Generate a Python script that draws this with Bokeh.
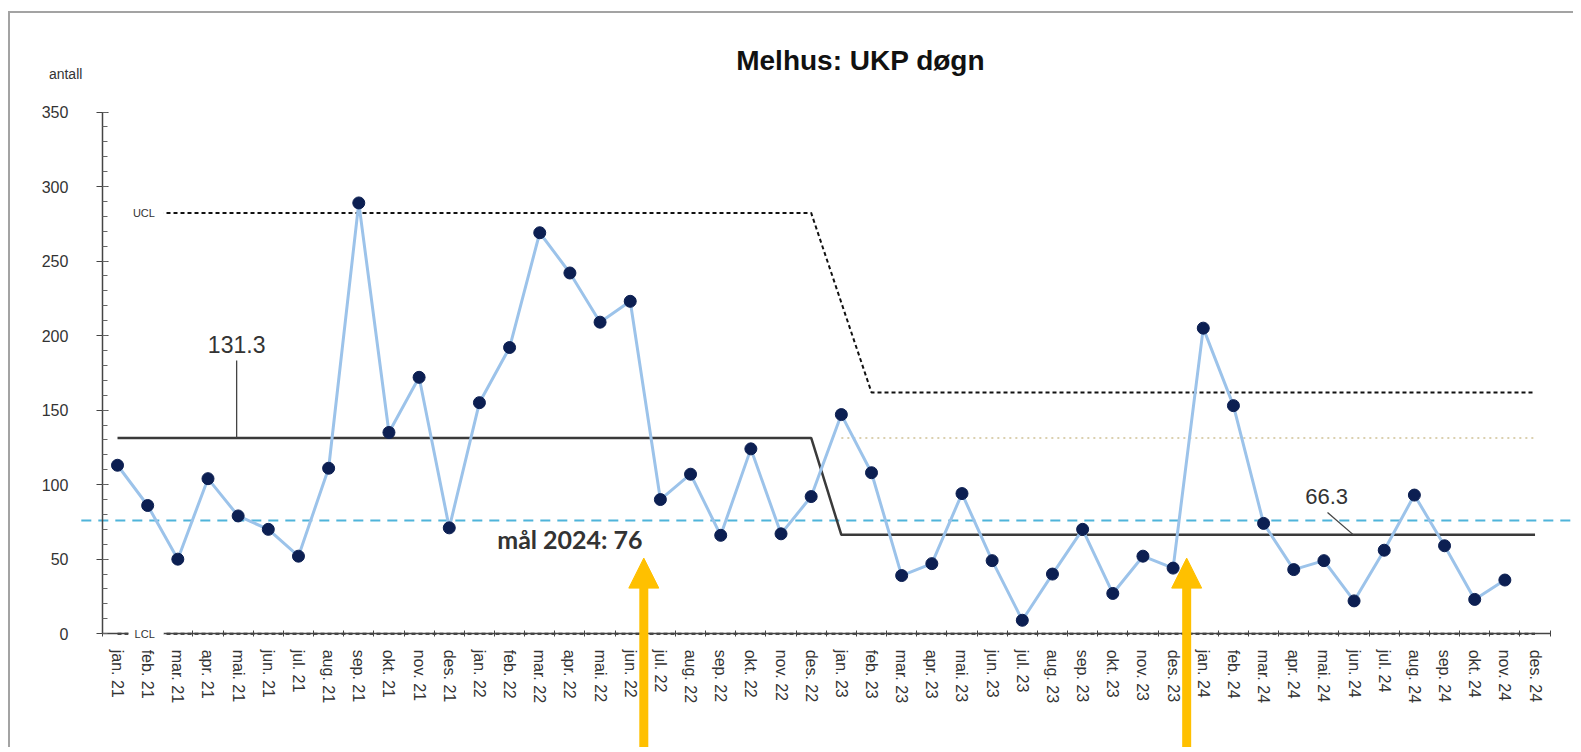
import numpy as np
from bokeh.plotting import figure
from bokeh.models import (ColumnDataSource, FixedTicker, SingleIntervalTicker, Label,
                          Arrow, NormalHead, Range1d)
from bokeh.embed import file_html
from bokeh.resources import INLINE

# ---------------- data ----------------
month_names = ["jan.", "feb.", "mar.", "apr.", "mai.", "jun.", "jul.", "aug.",
               "sep.", "okt.", "nov.", "des."]
years = ["21", "22", "23", "24"]
months = [f"{m} {y}" for y in years for m in month_names]

values = [113, 86, 50, 104, 79, 70, 52, 111, 289, 135, 172, 71,
          155, 192, 269, 242, 209, 223, 90, 107, 66, 124, 67, 92,
          147, 108, 39, 47, 94, 49, 9, 40, 70, 27, 52, 44,
          205, 153, 74, 43, 49, 22, 56, 93, 59, 23, 36]          # des. 24 missing

mean_values = [131.3] * 24 + [66.3] * 24
ucl_values = [282.3] * 24 + [None] + [161.9] * 23
lcl_values = [0.0] * 48
old_mean_ext = [131.3] * 24          # faint extension, jan. 23 - des. 24
goal_2024 = 76
mean_labels = ["131.3", "66.3"]
goal_label = "mål 2024: 76"
arrow_after = ["jun. 22", "des. 23"]
title_text = "Melhus: UKP døgn"
y_label = "antall"

# ---------------- figure ----------------
idx = list(range(len(months)))
X0, X1 = -3.548, 48.342
Y0, Y1 = -77.7, 416.1

p = figure(width=1565, height=736, output_backend="svg", toolbar_location=None,
           x_range=Range1d(X0, X1), y_range=Range1d(Y0, Y1),
           min_border_left=0, min_border_right=0, min_border_top=0,
           min_border_bottom=0)
p.styles = {"border-left": "2px solid #a3a3a3", "border-top": "2px solid #a3a3a3",
            "margin-left": "8px", "margin-top": "11px"}
p.outline_line_color = None
p.grid.visible = False
p.background_fill_color = "white"
p.border_fill_color = "white"

FONT = "Liberation Sans"

# x axis
p.xaxis.fixed_location = 0
p.xaxis.ticker = FixedTicker(ticks=idx, minor_ticks=[i - 0.5 for i in idx] + [47.5])
p.xaxis.major_label_overrides = {i: m for i, m in enumerate(months)}
p.xaxis.major_label_orientation = "vertical"
p.xaxis.major_tick_line_color = None
p.xaxis.major_tick_in = 0
p.xaxis.major_tick_out = 0
p.xaxis.minor_tick_in = 3
p.xaxis.minor_tick_out = 3
p.xaxis.minor_tick_line_color = "#444444"
p.xaxis.axis_line_color = "#444444"
p.xaxis.axis_line_width = 1.5
p.xaxis.bounds = (-0.5, 47.5)
p.xaxis.major_label_text_font = FONT
p.xaxis.major_label_text_font_size = "16px"
p.xaxis.major_label_text_color = "#333333"
p.xaxis.major_label_standoff = 13

# y axis
p.yaxis.fixed_location = -0.5
p.yaxis.ticker = SingleIntervalTicker(interval=50, num_minor_ticks=5)
p.yaxis.bounds = (0, 350)
p.yaxis.major_tick_in = 6
p.yaxis.major_tick_out = 6
p.yaxis.minor_tick_in = 5
p.yaxis.minor_tick_out = 0
p.yaxis.axis_line_color = "#444444"
p.yaxis.major_tick_line_color = "#444444"
p.yaxis.minor_tick_line_color = "#666666"
p.yaxis.axis_line_width = 1.5
p.yaxis.major_label_text_font = FONT
p.yaxis.major_label_text_font_size = "16px"
p.yaxis.major_label_text_color = "#333333"
p.yaxis.major_label_standoff = 28

# goal line (dashed light blue)
p.line(x=[-1.2, X1], y=[goal_2024, goal_2024], line_color="#4fb4da",
       line_width=2, line_dash="10 7")

# faint old mean extension
p.line(x=idx[24:], y=old_mean_ext, line_color="#cfc195", line_width=1.5,
       line_dash="2 4")

# UCL
ucl_x = [i for i, v in zip(idx, ucl_values) if v is not None]
ucl_y = [v for v in ucl_values if v is not None]
p.line(x=ucl_x, y=ucl_y, line_color="#111111", line_width=2, line_dash="4 3")

# LCL
p.line(x=idx, y=lcl_values, line_color="#111111", line_width=2, line_dash="4 3")

# mean
p.line(x=idx, y=mean_values, line_color="#3a3a3a", line_width=2.5)

# data
src = ColumnDataSource(dict(x=idx[:len(values)], y=values))
p.line("x", "y", source=src, line_color="#9cc3ea", line_width=3)
p.scatter("x", "y", source=src, size=12, fill_color="#0c1f52", line_color="#0c1f52")

# leader lines for mean labels
p.segment(x0=[3.95, 40.12], y0=[183.3, 81.3], x1=[3.95, 40.98],
          y1=[mean_values[0], mean_values[-1]], line_color="#444444", line_width=1.3)

# labels
p.add_layout(Label(x=3.95, y=194.0, text=mean_labels[0], text_align="center",
                   text_baseline="alphabetic", text_font=FONT, text_font_size="23px",
                   text_color="#333333"))
p.add_layout(Label(x=40.09, y=92.0, text=mean_labels[1], text_align="center",
                   text_baseline="alphabetic", text_font=FONT, text_font_size="22px",
                   text_color="#333333"))
p.add_layout(Label(x=15.0, y=63.5, text=goal_label, text_align="center",
                   text_baseline="alphabetic", text_font="Lato", text_font_size="25px",
                   text_color="#333333", text_font_style="bold"))
p.add_layout(Label(x=0.66, y=ucl_values[0], text="UCL", text_align="center",
                   text_baseline="middle", text_font=FONT, text_font_size="11px",
                   text_color="#333333", background_fill_color="white",
                   padding=(22, 9, 2, 2)))
p.add_layout(Label(x=0.95, y=lcl_values[0], text="LCL", text_align="center",
                   text_baseline="middle", text_font=FONT, text_font_size="11px",
                   text_color="#333333", background_fill_color="white",
                   padding=(6, 9, 2, 2)))
p.add_layout(Label(x=24.64, y=384.6, text=title_text, text_align="center",
                   text_baseline="alphabetic", text_font=FONT, text_font_size="28px",
                   text_font_style="bold", text_color="#111111"))
p.add_layout(Label(x=-1.72, y=375.2, text=y_label, text_align="center",
                   text_baseline="alphabetic", text_font=FONT, text_font_size="14px",
                   text_color="#333333"))

# yellow arrows
for m in arrow_after:
    ax = months.index(m) + 0.45
    p.add_layout(Arrow(end=NormalHead(size=30, fill_color="#ffc000", line_color="#ffc000"),
                       x_start=ax, y_start=Y0 - 10, x_end=ax, y_end=50.7,
                       line_color="#ffc000", line_width=9))

open("out.html", "w").write(file_html(p, INLINE))
